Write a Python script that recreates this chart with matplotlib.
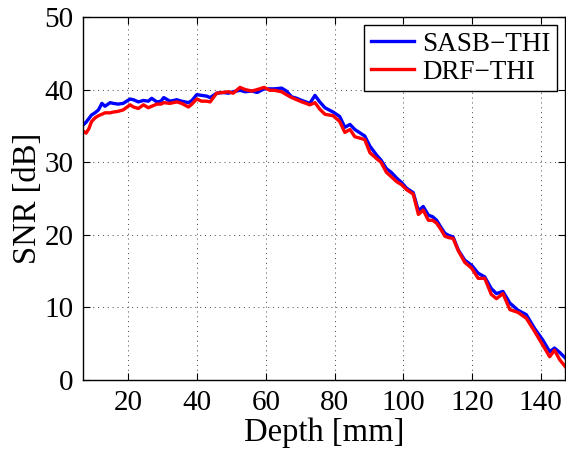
import numpy as np
import matplotlib
matplotlib.use("Agg")
import matplotlib.pyplot as plt

plt.rcParams["font.family"] = ["Liberation Serif", "DejaVu Serif"]
plt.rcParams["mathtext.fontset"] = "stix"

depth = [6.8, 7.7, 8.5, 9.3, 10.3, 11.3, 12.3, 13.2, 14.7, 15.6, 17.0, 18.5, 20.5, 21.5,
         22.9, 24.4, 25.8, 26.8, 28.3, 29.5, 30.3, 32.1, 34.1, 35.5, 37.5, 38.5, 39.9,
         41.3, 42.8, 43.8, 45.7, 47.5, 49.1, 50.5, 52.5, 54.0, 55.9, 57.5, 59.5, 61.2,
         62.5, 64.6, 66.0, 67.5, 69.0, 70.5, 72.8, 74.3, 75.7, 77.2, 79.6, 81.5, 83.0,
         84.5, 85.9, 87.5, 88.8, 90.3, 92.2, 93.5, 95.1, 96.5, 98.1, 99.5, 101.0, 102.9,
         104.4, 105.8, 107.3, 108.5, 109.7, 111.0, 112.1, 113.3, 114.5, 116.0, 117.9,
         119.9, 121.8, 123.7, 125.6, 127.1, 129.0, 131.0, 133.4, 135.8, 138.2, 140.6,
         142.6, 144.0, 145.5, 147.2]

sasb_thi = [35.1, 35.5, 36.0, 36.5, 36.8, 37.2, 38.1, 37.7, 38.2, 38.1, 38.0, 38.1, 38.7, 38.6,
            38.3, 38.5, 38.4, 38.8, 38.3, 38.4, 38.9, 38.4, 38.6, 38.4, 38.2, 38.5, 39.3,
            39.2, 39.1, 38.9, 39.5, 39.6, 39.5, 39.7, 39.9, 39.7, 39.8, 39.6, 40.1, 40.1,
            40.1, 40.2, 39.8, 39.0, 38.8, 38.5, 38.1, 39.2, 38.3, 37.5, 36.9, 36.3, 34.8,
            35.2, 34.5, 34.0, 33.6, 32.2, 31.0, 30.3, 29.1, 28.6, 27.8, 27.2, 26.4, 25.8,
            23.3, 23.9, 22.7, 22.5, 22.0, 21.0, 20.2, 19.9, 19.7, 17.9, 16.5,
            15.8, 14.7, 14.2, 12.6, 11.9, 12.2, 10.6, 9.6, 9.0, 7.1, 5.5,
            3.9, 4.4, 3.8, 3.0]

drf_thi = [34.3, 34.0, 34.6, 35.6, 36.1, 36.4, 36.6, 36.8, 36.8, 36.9, 37.0, 37.2, 37.9, 37.6,
           37.4, 37.9, 37.5, 37.7, 38.0, 38.0, 38.2, 38.1, 38.3, 38.1, 37.6, 38.0, 38.7,
           38.4, 38.4, 38.3, 39.5, 39.6, 39.7, 39.5, 40.3, 40.0, 39.8, 40.0, 40.3, 39.9,
           39.9, 39.7, 39.3, 38.9, 38.6, 38.3, 37.9, 38.2, 37.3, 36.6, 36.4, 35.6, 34.1,
           34.5, 33.5, 33.3, 33.1, 31.3, 30.5, 30.0, 28.6, 28.0, 27.3, 26.9, 26.2, 25.6,
           22.8, 23.4, 22.0, 22.0, 21.6, 20.7, 19.8, 19.6, 19.5, 17.8, 16.2,
           15.4, 14.0, 14.0, 11.8, 11.2, 11.9, 9.7, 9.3, 8.5, 6.7, 4.8,
           3.2, 4.1, 2.8, 1.8]

fig = plt.figure(figsize=(5.66, 4.49), dpi=100)
ax = fig.add_axes([0.1466, 0.1537, 0.8525, 0.8085])

ax.plot(depth, sasb_thi, color="blue", lw=2.4, label="SASB\u2212THI")
ax.plot(depth, drf_thi, color="red", lw=2.4, label="DRF\u2212THI")

ax.set_xlim(6.8, 147.2)
ax.set_ylim(0, 50)
ax.set_xticks([20, 40, 60, 80, 100, 120, 140])
ax.set_yticks([0, 10, 20, 30, 40, 50])
ax.grid(True, linestyle=(0, (1, 4)), color="#444444", lw=0.7)
ax.tick_params(direction="in", top=True, right=True, length=5, width=0.8,
               labelsize=21, pad=7)
for s in ax.spines.values():
    s.set_linewidth(1.0)

ax.set_xlabel("Depth [mm]", fontsize=23.5, labelpad=1)
ax.set_ylabel("SNR [dB]", fontsize=23.5, labelpad=1)

leg = ax.legend(loc="upper right", fontsize=19.5, fancybox=False, framealpha=1,
                edgecolor="black", handlelength=1.6, borderpad=0.25,
                labelspacing=0.1, handletextpad=0.3, borderaxespad=0.3)
leg.get_frame().set_linewidth(1.0)

fig.savefig("out.png", dpi=100)
